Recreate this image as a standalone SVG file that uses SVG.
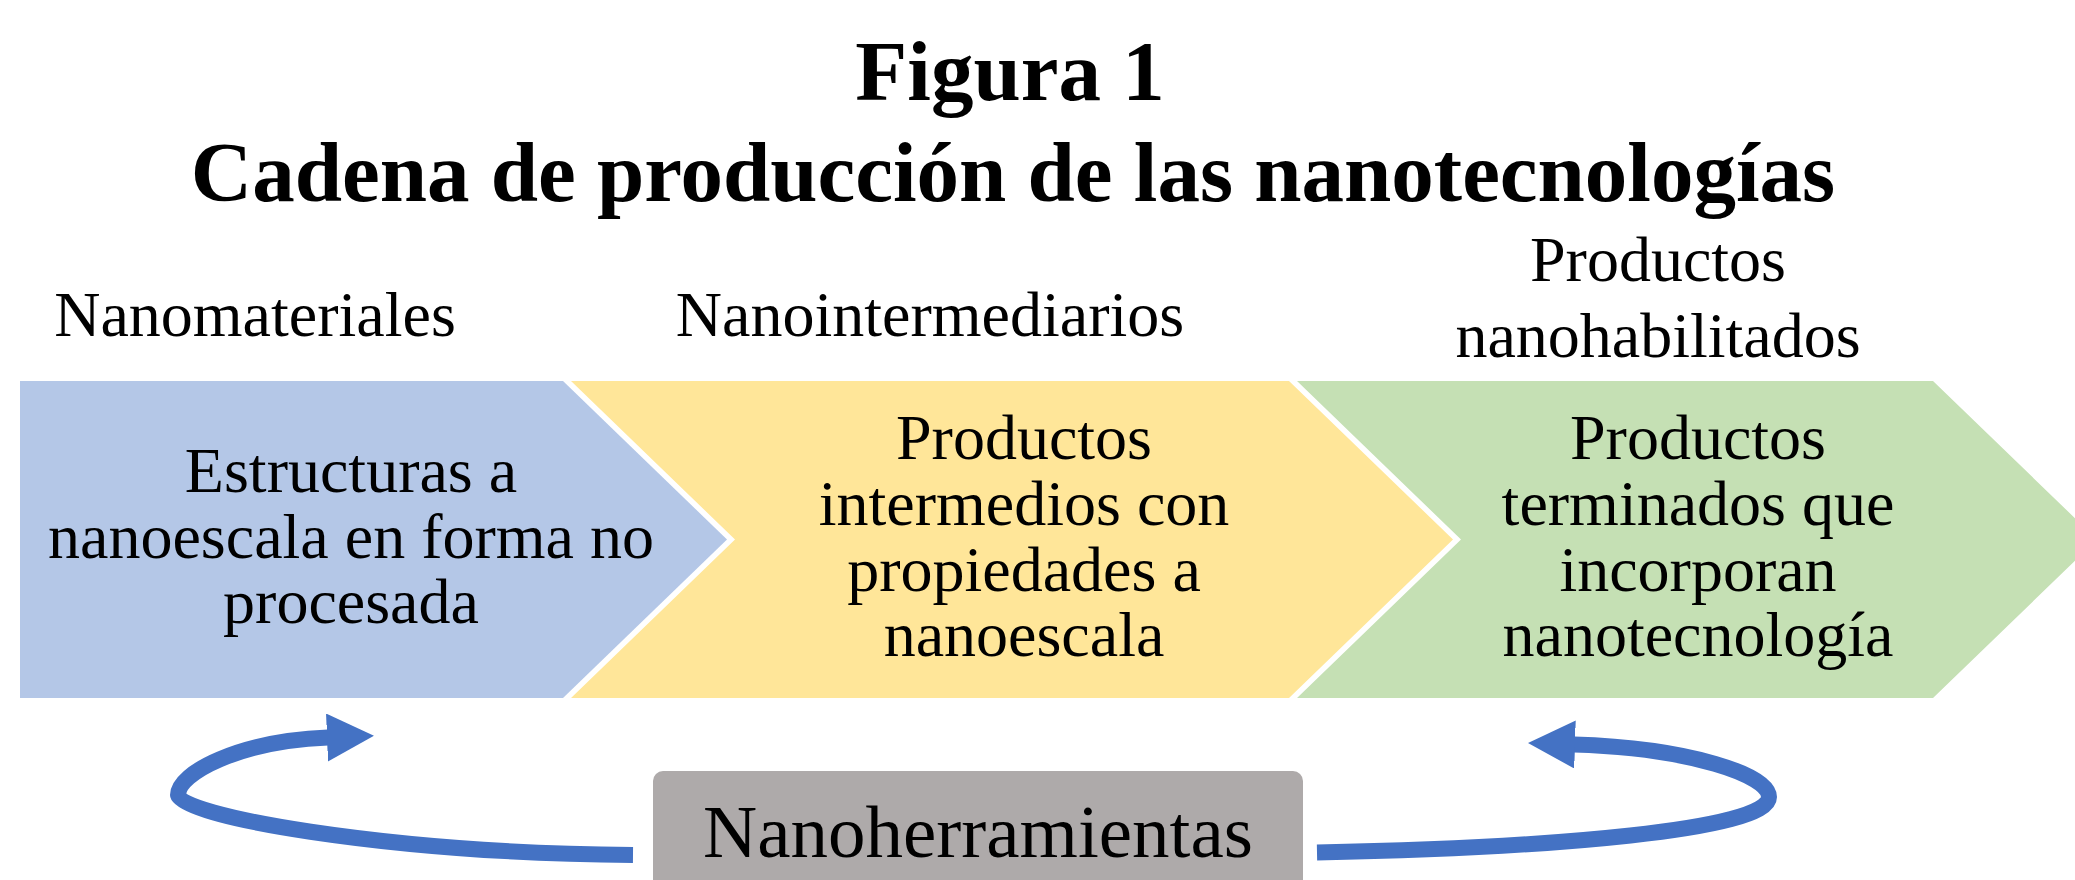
<svg xmlns="http://www.w3.org/2000/svg" width="2075" height="880" viewBox="0 0 2075 880">
<style>
  .title { font-family: "Liberation Serif", "Times New Roman", serif; font-weight: bold; font-size: 85px; fill: #000; text-anchor: middle; }
  .lbl { font-family: "Liberation Serif", "Times New Roman", serif; font-size: 64px; fill: #000; text-anchor: middle; }
  .tool { font-family: "Liberation Serif", "Times New Roman", serif; font-size: 75px; fill: #000; text-anchor: middle; }
  .conn { fill: none; stroke: #4472C4; stroke-width: 16; marker-end: url(#head); }
</style>
<defs>
  <marker id="head" markerUnits="userSpaceOnUse" markerWidth="50" markerHeight="50" refX="1" refY="24" orient="auto">
    <path d="M0,0 L47,24 L0,48 Z" fill="#4472C4"/>
  </marker>
</defs>
<rect width="2075" height="880" fill="#fff"/>

<g id="title">
  <text class="title" x="1010" y="100">Figura 1</text>
  <text class="title" x="1013" y="201">Cadena de producción de las nanotecnologías</text>
</g>

<g id="headers">
  <text class="lbl" x="255" y="336">Nanomateriales</text>
  <text class="lbl" x="930" y="336">Nanointermediarios</text>
  <text class="lbl" x="1658" y="281">Productos</text>
  <text class="lbl" x="1658" y="357">nanohabilitados</text>
</g>

<g id="nanomateriales">
  <polygon points="20,381 563,381 727,539.5 563,698 20,698" fill="#B4C7E7"/>
  <text class="lbl" x="351" y="492">Estructuras a</text>
  <text class="lbl" x="351" y="557.5">nanoescala en forma no</text>
  <text class="lbl" x="351" y="623">procesada</text>
</g>

<g id="nanointermediarios">
  <polygon points="571,381 1289,381 1453,539.5 1289,698 571,698 735,539.5" fill="#FFE699"/>
  <text class="lbl" x="1024" y="459">Productos</text>
  <text class="lbl" x="1024" y="525">intermedios con</text>
  <text class="lbl" x="1024" y="590.5">propiedades a</text>
  <text class="lbl" x="1024" y="656">nanoescala</text>
</g>

<g id="nanohabilitados">
  <polygon points="1297,381 1933,381 2097,539.5 1933,698 1297,698 1461,539.5" fill="#C5E0B4"/>
  <text class="lbl" x="1698" y="459">Productos</text>
  <text class="lbl" x="1698" y="525">terminados que</text>
  <text class="lbl" x="1698" y="590.5">incorporan</text>
  <text class="lbl" x="1698" y="656">nanotecnología</text>
</g>

<g id="nanoherramientas">
  <rect x="653" y="771" width="650" height="130" rx="10" fill="#AEAAAA"/>
  <text class="tool" x="978" y="857">Nanoherramientas</text>
</g>

<g id="connectors">
  <path class="conn" d="M633,855 C380,853 178,815 178,795 C178,773 239,741 328,737.5"/>
  <path class="conn" d="M1317,852.5 C1550,848 1769,830 1769,797 C1769,775 1690,748 1574,744.5"/>
</g>
</svg>
